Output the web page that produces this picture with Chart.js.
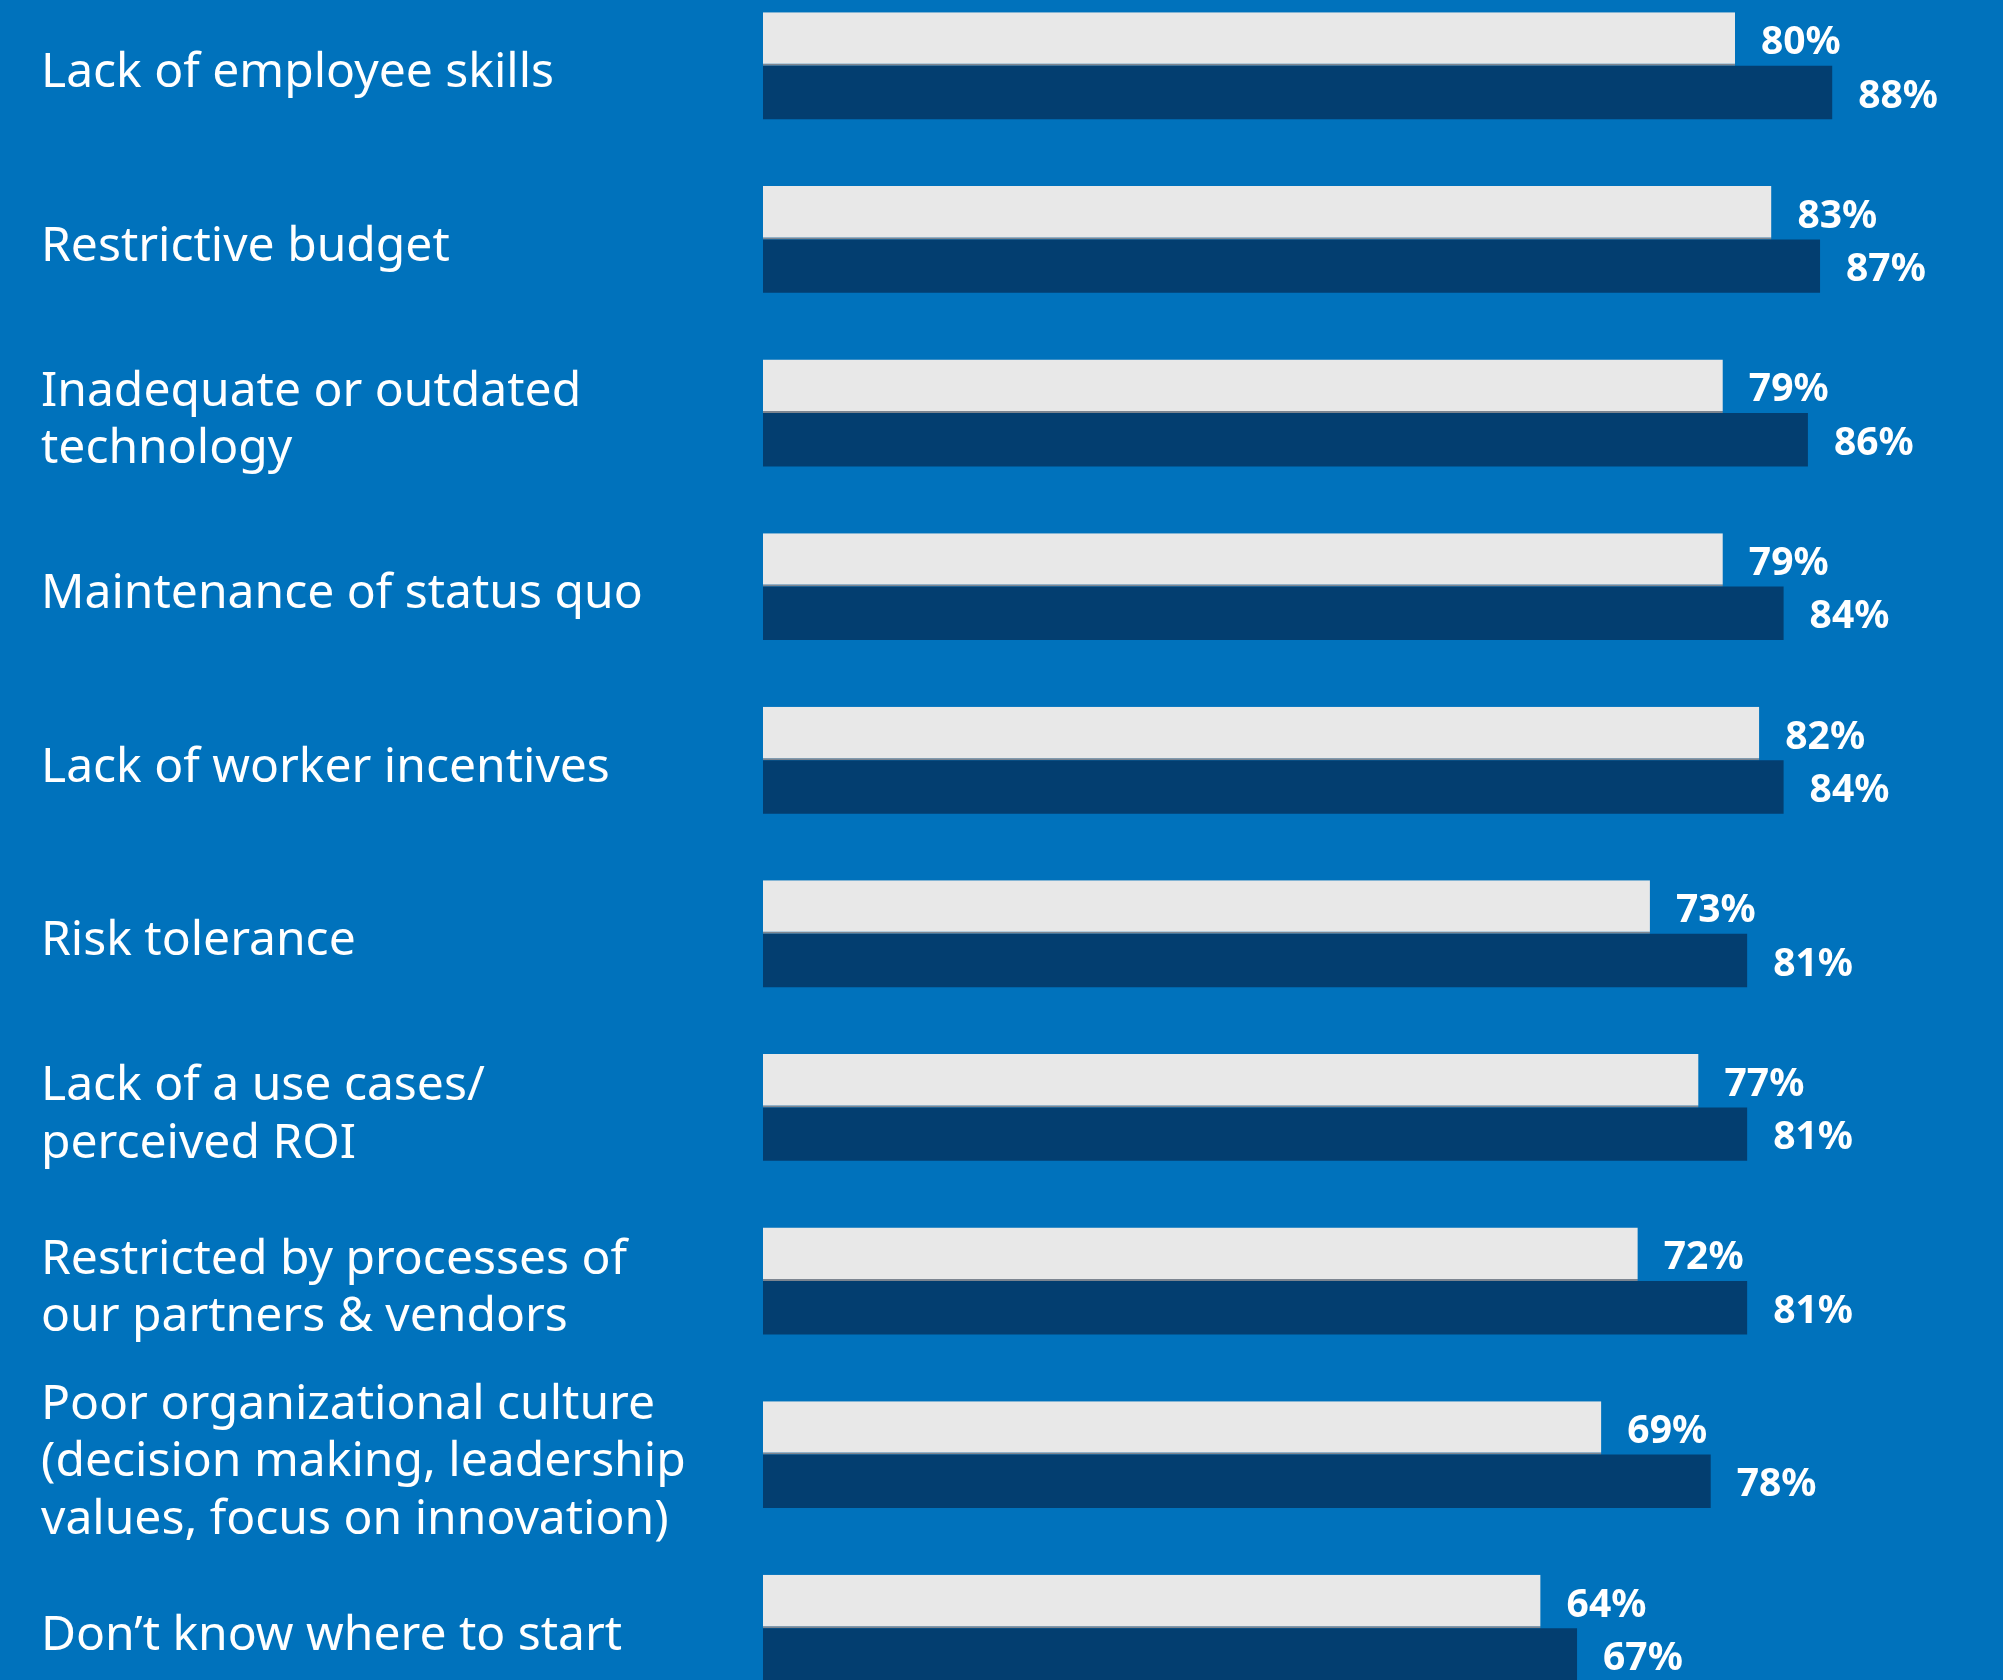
<!DOCTYPE html>
<html>
<head>
<meta charset="utf-8">
<script src="https://cdn.jsdelivr.net/npm/chart.js@4/dist/chart.umd.min.js"></script>
<style>
  html, body { margin: 0; padding: 0; background: #0072bc; overflow: hidden; width: 2003px; height: 1680px; }
  #wrap { position: absolute; left: 0; top: -21px; width: 2003px; height: 1736px; }
</style>
</head>
<body>
<div id="wrap"><canvas id="c" width="2003" height="1736"></canvas></div>
<script>
// Barriers, share of respondents (%)
const categories = [
  "Lack of employee skills",
  "Restrictive budget",
  ["Inadequate or outdated", "technology"],
  "Maintenance of status quo",
  "Lack of worker incentives",
  "Risk tolerance",
  ["Lack of a use cases/", "perceived ROI"],
  ["Restricted by processes of", "our partners & vendors"],
  ["Poor organizational culture", "(decision making, leadership", "values, focus on innovation)"],
  "Don’t know where to start"
];
const seriesLight = [80, 83, 79, 79, 82, 73, 77, 72, 69, 64];
const seriesDark  = [88, 87, 86, 84, 84, 81, 81, 81, 78, 67];

const FONT = "'Noto Sans', 'Open Sans', sans-serif";

// Writes each bar's value just past its end
const valueLabels = {
  id: 'valueLabels',
  afterDatasetsDraw(chart) {
    const ctx = chart.ctx;
    ctx.save();
    ctx.fillStyle = '#ffffff';
    ctx.font = `bold 39px ${FONT}`;
    ctx.textAlign = 'left';
    ctx.textBaseline = 'middle';
    chart.data.datasets.forEach((ds, di) => {
      chart.getDatasetMeta(di).data.forEach((bar, i) => {
        ctx.fillText(ds.data[i] + '%', bar.x + 26, bar.y + 4);
      });
    });
    ctx.restore();
  }
};

// Nudges the category labels a little below their tick centre
const labelNudge = {
  id: 'labelNudge',
  beforeDraw(chart) {
    const items = chart.scales.y.getLabelItems();
    if (!items._nudged) {
      items.forEach(it => { it.options.translation[1] += 8; });
      items._nudged = true;
    }
  }
};

new Chart(document.getElementById('c'), {
  type: 'bar',
  data: {
    labels: categories,
    datasets: [
      {
        data: seriesLight,
        backgroundColor: '#e8e8e8',
        borderColor: '#7d8590',
        borderWidth: { top: 0, right: 0, bottom: 2, left: 0 },
        borderSkipped: false
      },
      {
        data: seriesDark,
        backgroundColor: '#033e70',
        borderWidth: 0
      }
    ]
  },
  options: {
    indexAxis: 'y',
    responsive: false,
    animation: false,
    events: [],
    devicePixelRatio: 1,
    layout: { padding: { left: 41, right: 25, top: 0, bottom: 0 } },
    datasets: { bar: { barPercentage: 1, categoryPercentage: 0.616 } },
    plugins: { legend: { display: false }, tooltip: { enabled: false } },
    scales: {
      x: { display: false, min: 0, max: 100 },
      y: {
        grid: { display: false },
        border: { display: false },
        afterFit(scale) {
          scale.width = 722;
          scale.paddingTop = 0;
          scale.paddingBottom = 0;
        },
        ticks: {
          autoSkip: false,
          crossAlign: 'far',
          color: '#ffffff',
          padding: 0,
          font: { family: FONT, size: 48, lineHeight: 1.2 }
        }
      }
    }
  },
  plugins: [labelNudge, valueLabels]
});
</script>
</body>
</html>
